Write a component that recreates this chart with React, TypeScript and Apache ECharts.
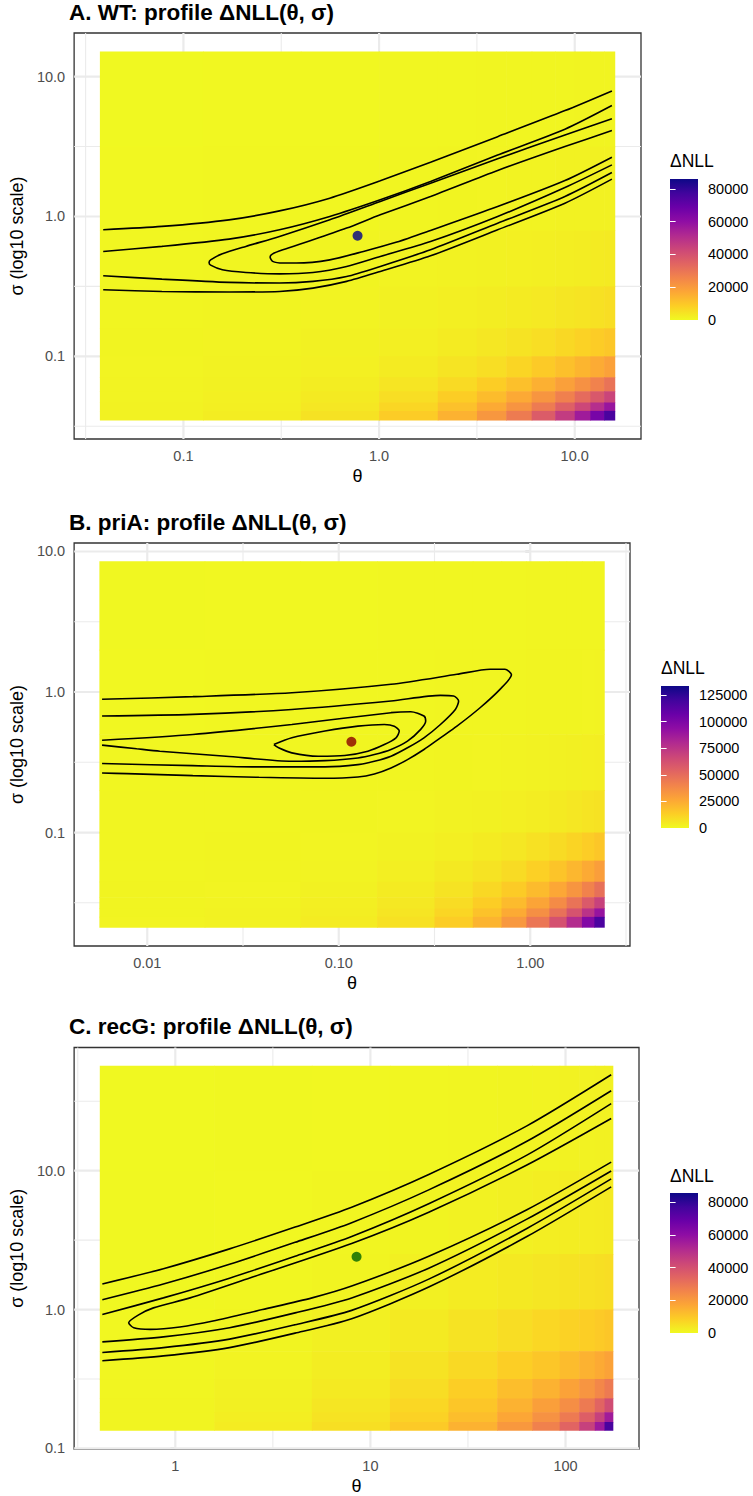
import { useEffect, useRef } from "react";
import * as echarts from "echarts";

const FONT = "'Liberation Sans', Arial, Helvetica, sans-serif";

// plasma palette, low -> high (direction reversed as in the figure)
const PLASMA = ["#F0F921", "#FCCE25", "#FCA636", "#F2844B", "#E16462", "#CC4778", "#B12A90", "#8F0DA4", "#6A00A8", "#41049D", "#0D0887"];

// ---------------- Panel A : WT ----------------
const wtTitle = "A. WT: profile \u0394NLL(\u03b8, \u03c3)";
const wtLog10ThetaEdges = [-1.427, -0.9, -0.4, 0.0, 0.3, 0.5, 0.65, 0.78, 0.9, 1.0, 1.08, 1.15, 1.207];
const wtLog10SigmaEdges = [1.18, 0.5, -0.1, -0.5, -0.8, -1.0, -1.15, -1.25, -1.33, -1.39, -1.459];
// ΔNLL in thousands, rows top (large σ) -> bottom, columns small θ -> large θ
const wtNLL = [
  [0.3, 0.4, 0.5, 0.6, 0.7, 0.8, 0.8, 0.9, 0.9, 1.0, 1.0, 1.0],
  [0.5, 0.6, 0.7, 0.9, 1.0, 1.1, 1.2, 1.3, 1.4, 1.5, 1.6, 1.7],
  [0.6, 0.8, 1.0, 1.2, 1.5, 1.7, 1.9, 2.1, 2.3, 2.5, 2.8, 3.0],
  [0.8, 1.0, 1.3, 1.7, 2.1, 2.5, 2.9, 3.3, 3.8, 4.3, 4.9, 5.5],
  [1.0, 1.2, 1.6, 2.1, 2.8, 3.6, 4.5, 5.5, 6.7, 7.8, 9.0, 10.2],
  [1.1, 1.4, 1.9, 2.8, 4.2, 5.5, 7.3, 9.4, 11.6, 13.9, 16.2, 18.5],
  [1.2, 1.6, 2.4, 4.0, 6.3, 8.8, 11.6, 15.0, 18.8, 22.6, 26.4, 30.3],
  [1.3, 1.8, 3.0, 5.4, 8.8, 12.4, 16.5, 21.4, 26.9, 32.5, 38.0, 43.6],
  [1.4, 2.0, 3.7, 7.0, 11.4, 16.3, 21.8, 28.3, 35.6, 43.1, 50.5, 57.9],
  [1.5, 2.4, 4.6, 9.0, 14.7, 21.1, 28.2, 36.7, 46.3, 56.1, 65.8, 75.6],
];
const wtThetaTicks = [0.1, 1, 10];
const wtThetaLabels = ["0.1", "1.0", "10.0"];
const wtSigmaTicks = [0.1, 1, 10];
const wtSigmaLabels = ["0.1", "1.0", "10.0"];
const wtBest = [-0.110, -0.138]; // log10 θ, log10 σ
const wtLegendMax = 86100;
const wtLegendBreaks = [0, 20000, 40000, 60000, 80000];
// contours: [log10 θ, log10 σ]
const wtC1 = [[-1.41, -0.095], [-1.11, -0.071], [-0.767, -0.024], [-0.509, 0.04], [-0.252, 0.131], [0.006, 0.255], [0.263, 0.388], [0.606, 0.571], [0.95, 0.757], [1.19, 0.898]];
const wtC2 = [[-1.41, -0.25], [-1.11, -0.214], [-0.767, -0.162], [-0.509, -0.095], [-0.252, 0.0], [0.006, 0.119], [0.263, 0.25], [0.606, 0.44], [0.95, 0.624], [1.19, 0.793]];
const wtC3 = [[1.19, 0.698], [0.95, 0.583], [0.606, 0.412], [0.263, 0.238], [0.006, 0.107], [-0.252, -0.024], [-0.509, -0.143], [-0.681, -0.214], [-0.801, -0.267], [-0.861, -0.31], [-0.869, -0.329], [-0.861, -0.348], [-0.801, -0.381], [-0.681, -0.4], [-0.509, -0.41], [-0.338, -0.4], [-0.166, -0.357], [0.006, -0.286], [0.263, -0.179], [0.606, 0.0], [0.95, 0.207], [1.19, 0.369]];
const wtC4 = [[1.19, 0.614], [0.95, 0.5], [0.606, 0.329], [0.263, 0.143], [0.006, 0.012], [-0.166, -0.083], [-0.338, -0.167], [-0.492, -0.238], [-0.544, -0.267], [-0.557, -0.29], [-0.544, -0.321], [-0.492, -0.333], [-0.423, -0.333], [-0.252, -0.31], [-0.08, -0.25], [0.091, -0.183], [0.263, -0.1], [0.606, 0.071], [0.95, 0.257], [1.19, 0.424]];
const wtC5 = [[-1.41, -0.424], [-1.11, -0.448], [-0.767, -0.471], [-0.509, -0.476], [-0.338, -0.464], [-0.166, -0.429], [0.006, -0.357], [0.263, -0.238], [0.606, -0.048], [0.95, 0.143], [1.19, 0.314]];
const wtC6 = [[-1.41, -0.524], [-1.11, -0.536], [-0.767, -0.54], [-0.509, -0.536], [-0.338, -0.512], [-0.166, -0.464], [0.006, -0.393], [0.263, -0.281], [0.606, -0.095], [0.95, 0.095], [1.19, 0.267]];

// ---------------- Panel B : priA ----------------
const priaTitle = "B. priA: profile \u0394NLL(\u03b8, \u03c3)";
const priaLog10ThetaEdges = [-2.25, -1.7, -1.2, -0.8, -0.5, -0.3, -0.15, -0.02, 0.1, 0.19, 0.27, 0.335, 0.389];
const priaLog10SigmaEdges = [0.93, 0.3, -0.3, -0.7, -1.0, -1.2, -1.35, -1.46, -1.54, -1.6, -1.677];
const priaNLL = [
  [0.5, 0.6, 0.7, 0.8, 0.9, 1.0, 1.0, 1.1, 1.1, 1.2, 1.2, 1.3],
  [0.7, 0.8, 0.9, 1.0, 1.1, 1.2, 1.3, 1.4, 1.5, 1.6, 1.7, 1.8],
  [0.9, 1.0, 1.1, 1.3, 1.5, 1.7, 1.9, 2.1, 2.4, 2.7, 3.0, 3.3],
  [1.1, 1.2, 1.4, 1.7, 2.1, 2.6, 3.1, 3.8, 4.6, 5.5, 6.4, 7.2],
  [1.2, 1.4, 1.7, 2.2, 3.2, 4.3, 5.6, 7.4, 9.4, 11.6, 13.8, 16.0],
  [1.3, 1.5, 2.0, 3.2, 4.9, 6.9, 9.4, 12.8, 16.8, 21.0, 25.5, 30.0],
  [1.4, 1.7, 2.6, 4.2, 6.8, 10.1, 14.2, 19.8, 26.4, 33.3, 40.8, 48.4],
  [1.5, 1.9, 3.0, 5.2, 8.9, 13.6, 19.7, 27.6, 37.1, 47.2, 58.1, 69.0],
  [1.6, 2.1, 3.4, 6.2, 11.0, 17.2, 25.2, 35.6, 48.0, 61.3, 75.8, 90.1],
  [1.7, 2.3, 3.9, 7.5, 13.8, 21.9, 32.1, 45.7, 61.9, 79.1, 97.9, 116.6],
];
const priaThetaTicks = [0.01, 0.1, 1];
const priaThetaLabels = ["0.01", "0.10", "1.00"];
const priaSigmaTicks = [0.1, 1, 10];
const priaSigmaLabels = ["0.1", "1.0", "10.0"];
const priaBest = [-0.934, -0.354];
const priaLegendMax = 133400;
const priaLegendBreaks = [0, 25000, 50000, 75000, 100000, 125000];
const priaC1 = [[-2.236, -0.052], [-1.762, -0.033], [-1.245, -0.005], [-0.727, 0.055], [-0.383, 0.126], [-0.21, 0.162], [-0.132, 0.162], [-0.098, 0.122], [-0.158, 0.019], [-0.262, -0.112], [-0.383, -0.243], [-0.469, -0.326], [-0.555, -0.409], [-0.641, -0.481], [-0.727, -0.54], [-0.814, -0.583], [-0.9, -0.605], [-1.072, -0.614], [-1.417, -0.607], [-1.762, -0.595], [-2.107, -0.581], [-2.236, -0.576]];
const priaC2 = [[-2.236, -0.171], [-1.762, -0.159], [-1.245, -0.124], [-0.727, -0.064], [-0.469, -0.024], [-0.4, -0.028], [-0.374, -0.064], [-0.391, -0.124], [-0.469, -0.231], [-0.555, -0.326], [-0.641, -0.397], [-0.727, -0.457], [-0.814, -0.493], [-0.9, -0.517], [-1.072, -0.533], [-1.417, -0.533], [-1.762, -0.524], [-2.236, -0.509]];
const priaC3 = [[-2.236, -0.343], [-1.762, -0.302], [-1.245, -0.231], [-0.727, -0.147], [-0.624, -0.14], [-0.555, -0.171], [-0.546, -0.207], [-0.572, -0.266], [-0.641, -0.35], [-0.727, -0.409], [-0.814, -0.445], [-0.9, -0.469], [-1.072, -0.488], [-1.245, -0.493], [-1.589, -0.457], [-1.934, -0.421], [-2.055, -0.404], [-2.236, -0.378]];
const priaC4 = [[-1.339, -0.374], [-1.245, -0.326], [-1.072, -0.278], [-0.9, -0.243], [-0.762, -0.231], [-0.71, -0.243], [-0.684, -0.278], [-0.701, -0.326], [-0.762, -0.374], [-0.848, -0.421], [-0.969, -0.452], [-1.107, -0.457], [-1.245, -0.433], [-1.314, -0.397], [-1.339, -0.374]];

// ---------------- Panel C : recG ----------------
const recgTitle = "C. recG: profile \u0394NLL(\u03b8, \u03c3)";
const recgLog10ThetaEdges = [-0.387, 0.2, 0.7, 1.1, 1.4, 1.65, 1.83, 1.97, 2.07, 2.15, 2.2, 2.245];
const recgLog10SigmaEdges = [1.756, 1.0, 0.4, 0.0, -0.3, -0.5, -0.64, -0.74, -0.81, -0.873];
const recgNLL = [
  [0.2, 0.3, 0.4, 0.6, 0.8, 0.9, 1.1, 1.3, 1.4, 1.5, 1.5],
  [0.3, 0.4, 0.7, 1.0, 1.4, 1.7, 2.1, 2.3, 2.6, 2.7, 2.9],
  [0.3, 0.6, 1.0, 1.7, 2.6, 3.2, 3.8, 4.3, 4.7, 5.1, 5.6],
  [0.4, 0.9, 1.7, 3.0, 4.3, 5.6, 6.8, 7.7, 8.6, 9.4, 10.3],
  [0.5, 1.2, 2.4, 4.3, 6.4, 8.6, 10.3, 12.4, 14.5, 16.2, 18.0],
  [0.7, 1.5, 3.0, 5.6, 8.6, 12.0, 14.5, 18.0, 21.4, 24.8, 28.2],
  [0.9, 1.7, 3.8, 6.8, 10.3, 14.5, 18.8, 23.1, 28.2, 34.2, 41.0],
  [0.9, 2.1, 4.3, 7.7, 12.0, 17.1, 22.2, 28.2, 35.9, 44.5, 55.6],
  [0.9, 2.6, 5.1, 9.4, 14.5, 20.5, 26.5, 34.2, 44.5, 56.4, 75.2],
];
const recgThetaTicks = [1, 10, 100];
const recgThetaLabels = ["1", "10", "100"];
const recgSigmaTicks = [0.1, 1, 10];
const recgSigmaLabels = ["0.1", "1.0", "10.0"];
const recgBest = [0.929, 0.38];
const recgLegendMax = 85500;
const recgLegendBreaks = [0, 20000, 40000, 60000, 80000];
const recgC1 = [[-0.374, 0.184], [-0.061, 0.294], [0.278, 0.437], [0.614, 0.594], [0.904, 0.737], [1.299, 0.973], [1.802, 1.323], [2.234, 1.691]];
const recgC2 = [[-0.374, 0.071], [-0.061, 0.184], [0.278, 0.326], [0.614, 0.484], [0.904, 0.626], [1.299, 0.862], [1.802, 1.212], [2.234, 1.576]];
const recgC3 = [[-0.374, -0.036], [-0.061, 0.084], [0.278, 0.226], [0.614, 0.384], [0.904, 0.526], [1.299, 0.762], [1.802, 1.112], [2.234, 1.483]];
const recgC4 = [[2.234, 1.376], [1.802, 1.041], [1.299, 0.701], [0.904, 0.476], [0.396, 0.234], [0.076, 0.084], [-0.112, 0.012], [-0.188, -0.038], [-0.239, -0.095], [-0.213, -0.131], [-0.128, -0.143], [0.024, -0.126], [0.193, -0.083], [0.447, 0.0], [0.701, 0.084], [0.904, 0.169], [1.299, 0.384], [1.802, 0.719], [2.234, 1.062]];
const recgC5 = [[-0.374, -0.233], [-0.061, -0.197], [0.278, -0.131], [0.614, -0.024], [0.904, 0.084], [1.299, 0.298], [1.802, 0.651], [2.234, 0.998]];
const recgC6 = [[-0.374, -0.309], [-0.061, -0.274], [0.278, -0.213], [0.614, -0.109], [0.904, -0.006], [1.299, 0.219], [1.802, 0.584], [2.234, 0.941]];
const recgC7 = [[-0.374, -0.369], [-0.061, -0.334], [0.278, -0.274], [0.614, -0.17], [0.904, -0.066], [1.299, 0.162], [1.802, 0.526], [2.234, 0.884]];

const panels = [
  {
    title: wtTitle, titleTop: 1, grid: { left: 70, top: 33, width: 571, height: 406 },
    tE: wtLog10ThetaEdges, sE: wtLog10SigmaEdges, nll: wtNLL,
    xT: wtThetaTicks, xL: wtThetaLabels, yT: wtSigmaTicks, yL: wtSigmaLabels,
    contours: [wtC1, wtC2, wtC3, wtC4, wtC5, wtC6], best: wtBest, bestColor: "#00008B",
    lMax: wtLegendMax, lBreaks: wtLegendBreaks,
    lg: { left: 670, top: 179, width: 28, height: 141, titleTop: 152 },
  },
  {
    title: priaTitle, titleTop: 511, grid: { left: 70, top: 543, width: 560, height: 403 },
    tE: priaLog10ThetaEdges, sE: priaLog10SigmaEdges, nll: priaNLL,
    xT: priaThetaTicks, xL: priaThetaLabels, yT: priaSigmaTicks, yL: priaSigmaLabels,
    contours: [priaC1, priaC2, priaC3, priaC4], best: priaBest, bestColor: "#8B0000",
    lMax: priaLegendMax, lBreaks: priaLegendBreaks,
    lg: { left: 661, top: 686, width: 28, height: 142, titleTop: 659 },
  },
  {
    title: recgTitle, titleTop: 1015, grid: { left: 70, top: 1047.5, width: 569, height: 405 },
    tE: recgLog10ThetaEdges, sE: recgLog10SigmaEdges, nll: recgNLL,
    xT: recgThetaTicks, xL: recgThetaLabels, yT: recgSigmaTicks, yL: recgSigmaLabels,
    contours: [recgC1, recgC2, recgC3, recgC4, recgC5, recgC6, recgC7], best: recgBest, bestColor: "#006400",
    lMax: recgLegendMax, lBreaks: recgLegendBreaks,
    lg: { left: 670, top: 1193, width: 28, height: 140, titleTop: 1167 },
  },
];

const lg10 = (v: number) => Math.round(Math.log10(v) * 1e6) / 1e6;

function buildOption() {
  const grids: any[] = [];
  const xAxes: any[] = [];
  const yAxes: any[] = [];
  const series: any[] = [];
  const titles: any[] = [];
  const visualMaps: any[] = [];

  panels.forEach((p, i) => {
    const tMin = p.tE[0], tMax = p.tE[p.tE.length - 1];
    const sMax = p.sE[0], sMin = p.sE[p.sE.length - 1];
    const xMin = tMin - 0.05 * (tMax - tMin), xMax = tMax + 0.05 * (tMax - tMin);
    const yMin = sMin - 0.05 * (sMax - sMin), yMax = sMax + 0.05 * (sMax - sMin);
    const xMaj = p.xT.map(lg10), yMaj = p.yT.map(lg10);
    const minors = (maj: number[], lo: number, hi: number) => {
      const out: number[] = [];
      maj.forEach((m) => [m - 0.5, m + 0.5].forEach((v) => {
        if (v > lo && v < hi && !out.includes(v) && !maj.includes(v)) out.push(v);
      }));
      return out;
    };
    const xMin2 = minors(xMaj, xMin, xMax), yMin2 = minors(yMaj, yMin, yMax);

    grids.push({ ...p.grid, show: true, backgroundColor: "#fff", borderColor: "#333333", borderWidth: 1.3, z: 0 });
    const fmt = (vals: number[], labels: string[]) => (v: number) => {
      const k = vals.findIndex((u) => Math.abs(u - v) < 1e-4);
      return k >= 0 ? labels[k] : "";
    };
    xAxes[i] = {
      type: "value", gridIndex: i, min: xMin, max: xMax,
      axisLine: { show: false }, splitLine: { show: false },
      axisTick: { show: true, customValues: xMaj, length: 5, lineStyle: { color: "#333333", width: 1.3 } },
      axisLabel: { customValues: xMaj, formatter: fmt(xMaj, p.xL), color: "#4D4D4D", fontSize: 14.5, fontFamily: FONT, margin: 9 },
      name: "\u03b8", nameLocation: "middle", nameGap: 28,
      nameTextStyle: { color: "#000", fontSize: 18, fontFamily: FONT },
    };
    yAxes[i] = {
      type: "value", gridIndex: i, min: yMin, max: yMax,
      axisLine: { show: false }, splitLine: { show: false },
      axisTick: { show: true, customValues: yMaj, length: 5, lineStyle: { color: "#333333", width: 1.3 } },
      axisLabel: { customValues: yMaj, formatter: fmt(yMaj, p.yL), color: "#4D4D4D", fontSize: 14.5, fontFamily: FONT, margin: 9 },
      name: "\u03c3 (log10 scale)", nameLocation: "middle", nameGap: 46,
      nameTextStyle: { color: "#000", fontSize: 18, fontFamily: FONT },
    };

    // grid lines (drawn through the axes' scales)
    const vLines = [...xMaj.map((v) => [v, 1]), ...xMin2.map((v) => [v, 0])];
    const hLines = [...yMaj.map((v) => [v, 1]), ...yMin2.map((v) => [v, 0])];
    series.push({
      type: "custom", xAxisIndex: i, yAxisIndex: i, z: 1, silent: true, data: vLines,
      encode: { x: 0 },
      renderItem: (_: any, api: any) => {
        const a = api.coord([api.value(0), yMin]);
        const b = api.coord([api.value(0), yMax]);
        return { type: "line", shape: { x1: a[0], y1: a[1], x2: b[0], y2: b[1] }, style: { stroke: "#EBEBEB", lineWidth: api.value(1) ? 2.2 : 1.1 } };
      },
    });
    series.push({
      type: "custom", xAxisIndex: i, yAxisIndex: i, z: 1, silent: true, data: hLines.map((d) => [xMin, d[0], d[1]]),
      encode: { x: 0, y: 1 },
      renderItem: (_: any, api: any) => {
        const a = api.coord([xMin, api.value(1)]);
        const b = api.coord([xMax, api.value(1)]);
        return { type: "line", shape: { x1: a[0], y1: a[1], x2: b[0], y2: b[1] }, style: { stroke: "#EBEBEB", lineWidth: api.value(2) ? 2.2 : 1.1 } };
      },
    });

    // heat map tiles
    const cells: number[][] = [];
    p.nll.forEach((row, r) => row.forEach((v, c) => {
      cells.push([p.tE[c], p.tE[c + 1], p.sE[r + 1], p.sE[r], v * 1000]);
    }));
    const heatIndex = series.length;
    series.push({
      type: "custom", xAxisIndex: i, yAxisIndex: i, z: 2, silent: true, data: cells,
      encode: { x: [0, 1], y: [2, 3] },
      renderItem: (_: any, api: any) => {
        const a = api.coord([api.value(0), api.value(3)]);
        const b = api.coord([api.value(1), api.value(2)]);
        const last = api.value(1) >= tMax - 1e-9;
        const bottom = api.value(2) <= sMin + 1e-9;
        return {
          type: "rect",
          shape: { x: a[0], y: a[1], width: b[0] - a[0] + (last ? 0 : 0.6), height: b[1] - a[1] + (bottom ? 0 : 0.6) },
          style: { fill: api.visual("color"), stroke: null },
        };
      },
    });
    visualMaps.push({
      type: "continuous", show: false, min: 0, max: p.lMax, dimension: 4, seriesIndex: heatIndex,
      inRange: { color: PLASMA },
    });

    p.contours.forEach((c) => {
      series.push({
        type: "line", xAxisIndex: i, yAxisIndex: i, z: 3, silent: true, data: c,
        showSymbol: false, symbol: "none", smooth: 0.25,
        lineStyle: { color: "#000", width: 1.6 },
      });
    });
    series.push({
      type: "scatter", xAxisIndex: i, yAxisIndex: i, z: 4, silent: true, data: [p.best],
      symbolSize: 10, itemStyle: { color: p.bestColor },
    });

    titles.push({
      text: p.title, left: p.grid.left - 1, top: p.titleTop, padding: 0,
      textStyle: { fontSize: 22.5, fontWeight: "bold", color: "#000", fontFamily: FONT, lineHeight: 22 },
    });
    titles.push({
      text: "\u0394NLL", left: p.lg.left, top: p.lg.titleTop, padding: 0,
      textStyle: { fontSize: 17.5, fontWeight: "normal", color: "#000", fontFamily: FONT, lineHeight: 17.5 },
    });
  });

  // legends (colour bars)
  panels.forEach((p, i) => {
    const gi = 3 + i;
    grids.push({ left: p.lg.left, top: p.lg.top, width: p.lg.width, height: p.lg.height, show: false });
    xAxes[gi] = { type: "value", gridIndex: gi, min: 0, max: 1, show: false };
    yAxes[gi] = {
      type: "value", gridIndex: gi, min: 0, max: p.lMax, position: "right", z: 6,
      axisLine: { show: false }, splitLine: { show: false },
      axisTick: { show: true, inside: true, customValues: p.lBreaks, length: 5.6, lineStyle: { color: "#ffffff", width: 1 } },
      axisLabel: { customValues: p.lBreaks, formatter: (v: number) => String(Math.round(v)), color: "#000", fontSize: 14.5, fontFamily: FONT, margin: 10 },
    };
    yAxes[6 + i] = {
      type: "value", gridIndex: gi, min: 0, max: p.lMax, position: "left", z: 6,
      axisLine: { show: false }, splitLine: { show: false },
      axisTick: { show: true, inside: true, customValues: p.lBreaks, length: 5.6, lineStyle: { color: "#ffffff", width: 1 } },
      axisLabel: { show: false },
    };
    series.push({
      type: "custom", xAxisIndex: gi, yAxisIndex: gi, z: 2, silent: true, data: [[0, 1, 0, p.lMax]],
      encode: { x: [0, 1], y: [2, 3] },
      renderItem: (_: any, api: any) => {
        const a = api.coord([api.value(0), api.value(3)]);
        const b = api.coord([api.value(1), api.value(2)]);
        return {
          type: "rect",
          shape: { x: a[0], y: a[1], width: b[0] - a[0], height: b[1] - a[1] },
          style: {
            fill: {
              type: "linear", x: 0, y: 1, x2: 0, y2: 0,
              colorStops: PLASMA.map((c, k) => ({ offset: k / (PLASMA.length - 1), color: c })),
            },
          },
        };
      },
    });
  });

  return {
    animation: false,
    backgroundColor: "#ffffff",
    textStyle: { fontFamily: FONT },
    title: titles,
    grid: grids,
    xAxis: xAxes,
    yAxis: yAxes,
    visualMap: visualMaps,
    series,
  };
}

export default function App() {
  const ref = useRef<HTMLDivElement>(null);
  useEffect(() => {
    if (!ref.current) return;
    const chart = echarts.init(ref.current, null, { renderer: "svg" });
    chart.setOption(buildOption() as any);
    return () => chart.dispose();
  }, []);
  return <div ref={ref} style={{ position: "absolute", left: 0, top: 0, width: 753, height: 1496, background: "#fff" }} />;
}
